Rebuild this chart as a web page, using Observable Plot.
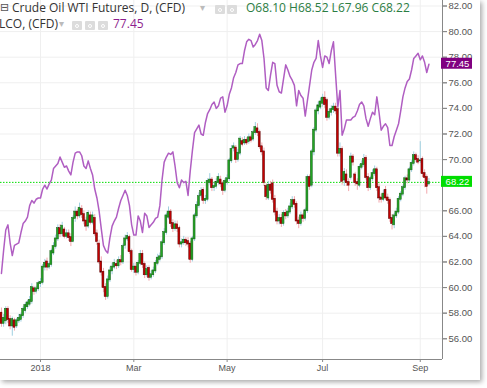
<!DOCTYPE html>
<html><head><meta charset="utf-8">
<script src="https://cdn.jsdelivr.net/npm/d3@7"></script>
<script src="https://cdn.jsdelivr.net/npm/@observablehq/plot@0.6"></script>
<style>
html,body{margin:0;padding:0;background:#fff;}
#card{position:absolute;left:0;top:0;width:480px;height:380px;background:#fff;box-shadow:2px 2px 5px rgba(0,0,0,0.35);overflow:hidden;}
#chart{position:absolute;left:0;top:0;}
.lg{position:absolute;font-family:"Open Sans","Noto Sans",sans-serif;font-size:12px;color:#333;white-space:nowrap;line-height:14px;}
.btn{position:absolute;width:10px;height:9px;background:#dcdcdc;border-radius:1px;}
.btn::after{content:"";position:absolute;left:3px;top:2.5px;width:4px;height:4px;border:1px solid #fff;border-radius:50%;box-sizing:border-box;}
</style></head><body>
<div id="card">
  <div id="chart"></div>
  <div class="lg" style="left:0px;top:1px;color:#555;font-family:'DejaVu Sans';font-size:11px;">⊟</div>
  <div class="lg" style="left:12px;top:1px;">Crude Oil WTI Futures, D, (CFD)</div>
  <div class="lg" style="left:200px;top:0px;color:#bbb;font-size:10px;">▾</div>
  <div class="btn" style="left:215px;top:5px;"></div>
  <div class="btn" style="left:227px;top:5px;"></div>
  <div class="lg" id="ohlc" style="left:246px;top:1px;color:#2b7d43;"></div>
  <div class="lg" style="left:-1px;top:17px;">LCO, (CFD)</div>
  <div class="lg" style="left:59px;top:16px;color:#bbb;font-size:10px;">▾</div>
  <div class="btn" style="left:72px;top:21px;"></div>
  <div class="btn" style="left:85px;top:21px;"></div>
  <div class="btn" style="left:98px;top:21px;"></div>
  <div class="lg" id="lcoval" style="left:113px;top:17px;color:#8e1f8e;"></div>
</div>
<script>
// ---- data ----
const opens = [58.0,57.2,57.4,58.3,57.5,57.0,57.4,57.0,57.4,57.5,
57.8,58.2,58.5,58.7,58.9,59.9,59.7,59.9,60.3,60.4,
61.6,62.0,61.6,61.8,62.7,63.2,63.8,64.6,64.2,64.5,
64.0,64.2,63.9,63.6,65.4,65.9,65.6,66.1,65.7,65.2,
64.8,65.6,65.1,65.4,64.2,63.4,62.0,61.2,60.0,59.3,
60.6,61.3,61.6,61.8,61.7,62.1,62.0,63.3,63.8,63.9,
62.8,61.4,61.6,61.2,61.9,62.6,61.8,61.0,61.5,60.8,
61.0,61.3,61.9,62.2,62.4,63.5,64.3,65.5,65.9,65.0,
64.6,64.9,64.6,63.4,63.5,63.7,63.6,63.4,62.2,63.8,
65.6,66.4,67.2,67.6,66.8,66.9,68.2,68.4,67.8,67.9,
68.2,68.4,68.1,67.6,68.2,68.5,69.9,70.9,70.9,70.0,
70.5,71.4,71.3,71.5,71.4,71.7,71.6,72.1,72.4,72.1,
71.0,70.6,67.9,67.0,68.0,68.1,66.9,65.9,65.2,65.4,
65.0,65.8,65.6,65.9,66.3,66.8,66.5,65.2,65.0,65.6,
65.4,66.0,68.6,68.0,70.6,72.3,73.8,74.1,74.4,74.8,
74.6,73.3,73.7,73.9,74.1,73.9,70.5,70.8,68.4,68.8,
68.2,68.6,70.2,68.8,68.2,68.0,69.4,69.6,70.1,68.6,
67.8,68.5,68.9,69.2,67.8,67.0,66.9,67.6,67.0,66.8,
65.4,64.9,65.6,65.9,66.9,67.3,67.8,68.5,68.4,69.2,
69.7,70.3,70.0,69.9,70.0,68.9,68.6,68.10];
const highs = [58.4,57.9,58.5,58.5,57.8,57.7,57.6,57.6,57.9,58.0,
58.5,58.8,59.0,59.3,60.3,60.1,60.1,60.5,60.7,61.8,
62.2,62.3,62.0,63.0,63.5,64.1,64.9,64.9,65.1,64.7,
64.5,64.5,64.2,65.6,66.3,66.1,66.6,66.4,66.0,65.5,
66.0,65.9,65.9,65.7,64.5,63.7,62.4,61.5,60.3,60.9,
61.6,61.9,62.2,62.1,62.4,62.5,63.4,64.1,64.3,64.1,
63.0,61.9,61.9,62.1,62.9,62.9,62.0,61.7,61.7,61.3,
61.6,62.1,62.6,62.7,63.7,64.6,65.8,66.3,66.1,65.3,
65.2,65.2,64.8,63.8,64.0,63.9,63.9,63.6,64.0,65.8,
66.7,67.4,67.8,67.8,67.2,68.5,68.9,68.6,68.2,68.5,
68.9,68.7,68.3,68.5,68.8,70.1,71.1,71.3,71.1,70.8,
71.8,71.7,71.8,71.7,72.0,71.9,72.3,72.9,72.8,72.3,
71.3,70.9,68.1,68.3,68.3,68.4,67.2,66.2,65.7,65.7,
66.0,66.1,66.2,66.6,67.1,67.1,66.7,65.5,65.9,65.8,
66.2,68.8,68.8,70.8,72.5,74.0,74.5,74.8,75.1,75.3,
74.8,73.9,74.2,74.4,74.4,74.1,71.3,71.0,69.3,69.2,
68.5,70.5,70.4,69.0,68.5,69.6,69.9,70.4,70.3,68.9,
68.7,69.2,69.5,69.4,68.1,67.3,67.6,67.9,67.3,67.0,
65.7,65.8,66.2,67.1,67.5,68.0,68.7,68.8,69.4,69.9,
70.6,70.5,70.3,71.4,70.2,69.2,68.8,68.52];
const lows = [56.9,56.9,57.1,57.2,56.7,56.2,56.6,56.8,57.2,57.3,
57.6,58.0,58.3,58.5,58.7,59.4,59.5,59.7,60.0,60.2,
61.3,61.3,61.4,61.6,62.5,63.0,63.6,63.9,64.0,63.8,
63.8,63.6,63.2,63.5,65.1,65.3,65.4,65.4,64.9,64.4,
64.6,64.9,64.9,64.0,63.3,61.8,60.9,59.6,59.0,59.1,
60.4,61.0,61.4,61.4,61.5,61.7,61.8,63.0,63.6,62.6,
61.2,61.1,60.9,61.0,61.7,61.5,60.7,60.8,60.5,60.6,
60.8,61.1,61.7,62.0,62.2,63.3,64.1,65.3,64.7,64.3,
64.4,64.3,63.1,63.1,63.3,63.2,63.1,61.9,62.0,63.6,
65.4,66.2,67.0,66.5,66.5,66.7,68.0,67.5,67.5,67.7,
68.0,67.8,67.2,67.4,68.0,68.3,69.7,70.6,69.7,69.8,
70.3,71.0,71.1,71.1,71.2,71.3,71.4,71.9,71.8,70.8,
70.3,67.9,66.8,66.8,67.3,66.6,65.6,64.9,64.9,64.7,
64.8,65.3,65.4,65.7,66.1,66.2,64.9,64.6,64.8,65.1,
65.2,65.8,67.6,67.8,70.3,72.1,73.5,73.9,74.1,74.0,
73.0,73.1,73.4,73.6,73.5,70.2,70.2,68.0,67.9,67.9,
67.5,68.4,69.5,67.9,67.6,67.8,69.2,69.4,68.4,67.5,
67.6,68.3,68.7,67.5,66.6,66.6,66.7,66.8,66.5,65.1,
64.5,64.6,65.4,65.7,66.7,67.1,67.6,68.1,68.2,69.0,
69.5,69.8,69.6,69.7,68.6,67.8,67.3,67.96];
const closes = [57.2,57.6,58.3,57.5,57.0,57.5,56.9,57.4,57.6,57.8,
58.3,58.6,58.8,59.0,60.0,59.7,59.9,60.3,60.4,61.6,
61.9,61.6,61.8,62.8,63.2,63.8,64.6,64.2,64.8,64.0,
64.2,63.9,63.6,65.4,65.9,65.6,66.2,65.7,65.2,64.8,
65.8,65.1,65.6,64.2,63.6,62.0,61.2,60.0,59.3,60.6,
61.3,61.6,61.9,61.7,62.1,62.0,63.2,63.8,64.0,62.8,
61.4,61.6,61.2,61.9,62.6,61.8,61.0,61.4,60.8,61.0,
61.3,61.9,62.3,62.4,63.5,64.3,65.6,65.9,65.0,64.6,
64.9,64.6,63.4,63.5,63.7,63.5,63.4,62.2,63.8,65.6,
66.4,67.1,67.5,66.8,66.9,68.3,68.4,67.8,67.9,68.2,
68.6,68.1,67.6,68.3,68.5,69.9,70.8,71.0,70.0,70.5,
71.6,71.2,71.5,71.3,71.7,71.5,72.1,72.5,72.1,71.0,
70.6,68.2,67.1,68.0,67.6,66.9,65.9,65.2,65.4,65.0,
65.8,65.6,65.9,66.3,66.8,66.5,65.2,65.0,65.6,65.4,
66.0,68.6,67.9,70.6,72.3,73.8,74.2,74.5,74.8,74.3,
73.3,73.7,73.9,74.1,73.8,70.5,70.8,68.3,69.0,68.2,
68.0,70.2,69.8,68.2,68.1,69.4,69.6,70.0,68.6,67.8,
68.5,68.9,69.2,67.8,67.0,66.9,67.3,67.0,66.8,65.4,
65.0,65.6,65.9,66.9,67.3,67.8,68.5,68.4,69.2,69.7,
70.3,70.0,69.8,69.9,68.9,68.6,67.9,68.22];
const brent = [61.1,62.9,64.5,64.9,63.5,62.5,63.3,63.4,63.5,64.3,
65.0,65.2,65.5,66.4,66.8,66.6,66.9,67.0,67.0,67.7,
68.0,67.7,68.1,68.4,69.3,69.5,69.7,70.2,69.8,69.4,
69.5,69.1,68.8,69.8,70.5,70.6,70.6,70.3,69.5,69.3,
69.9,69.3,68.8,67.7,67.0,66.0,64.6,63.3,62.9,62.7,
63.9,64.8,65.2,65.5,66.2,66.8,67.2,67.6,67.2,66.4,
64.9,64.1,64.1,65.6,65.2,64.3,65.8,65.6,64.7,64.9,
65.1,65.4,65.5,66.4,68.4,69.8,70.2,70.5,70.4,70.6,
69.5,68.2,67.8,68.4,68.2,68.3,67.2,69.1,70.7,72.1,
72.4,72.7,72.0,71.9,72.9,73.6,73.9,74.3,74.5,74.0,
74.2,74.8,74.9,73.7,74.2,75.1,75.6,76.4,76.8,77.4,
77.5,77.5,78.5,79.2,79.4,79.3,78.8,79.0,79.3,79.8,
79.3,77.9,75.6,75.4,76.6,77.6,77.5,75.8,75.3,75.2,
76.3,77.4,77.0,76.5,76.2,75.8,74.2,75.4,75.0,74.8,
73.4,74.6,75.8,77.0,77.6,77.9,79.3,78.1,77.2,78.1,
78.0,77.5,78.5,79.2,76.6,74.1,75.4,71.9,72.4,73.1,
73.1,73.1,73.3,73.4,73.8,74.3,74.5,74.2,73.2,72.6,
73.2,73.7,73.5,74.9,73.7,72.3,72.6,72.8,72.5,71.1,
71.1,71.8,72.3,72.8,73.8,74.9,75.6,76.1,76.3,77.0,
77.9,78.1,78.3,77.8,78.1,77.6,76.8,77.45];
const yTicks = [56,58,60,62,64,66,68,70,72,74,76,78,80,82];
const monthLabels = ["2018","Mar","May","Jul","Sep"];
const monthNums = [0,2,4,6,8];

// trading days (weekdays) starting 6 Dec 2017
const dates = [];
for (let d = new Date(2017, 11, 6); dates.length < closes.length; d.setDate(d.getDate() + 1)) {
  const wd = d.getDay();
  if (wd !== 0 && wd !== 6) dates.push(new Date(d));
}
const bars = closes.map((c, i) => ({i, date: dates[i], open: opens[i], high: highs[i], low: lows[i], close: c, brent: brent[i], up: c >= opens[i]}));
const tickIdx = monthNums.map(m => bars.find(b => b.date.getFullYear() === 2018 && b.date.getMonth() === m).i);
const labelOf = new Map(tickIdx.map((t, k) => [t, monthLabels[k]]));

const last = bars[bars.length - 1];
document.getElementById("ohlc").textContent = `O${last.open.toFixed(2)} H${last.high.toFixed(2)} L${last.low.toFixed(2)} C${last.close.toFixed(2)}`;
document.getElementById("lcoval").textContent = last.brent.toFixed(2);

const xDom = [-0.43, 203.25];
const yDom = [54.38, 82.43];
const tags = [{v: last.brent, c: "#800080"}, {v: last.close, c: "#00dd00"}];
// tick labels hidden behind the price tags in the reference
const labelTicks = yTicks.filter(t => !tags.some(g => Math.abs(g.v - t) < 0.5));

const chart = Plot.plot({
  width: 480, height: 380,
  marginLeft: 0, marginRight: 38, marginTop: 0, marginBottom: 21,
  x: {domain: xDom, axis: null, label: null},
  y: {domain: yDom, axis: null, label: null},
  style: {fontFamily: "'Liberation Sans', Arial, sans-serif", fontSize: "9.5px", color: "#555", background: "transparent", overflow: "visible"},
  marks: [
    Plot.gridY(yTicks, {stroke: "#efefef", strokeOpacity: 1}),
    Plot.gridX(tickIdx, {stroke: "#efefef", strokeOpacity: 1}),
    Plot.ruleY([last.close], {stroke: "#00dd00", strokeWidth: 1, strokeDasharray: "1.5,1.5"}),
    Plot.line(bars, {x: "i", y: "brent", stroke: "#b05ec2", strokeWidth: 1.5, curve: "linear"}),
    Plot.ruleX(bars, {x: "i", y1: "low", y2: "high", stroke: d => d.up ? "#9fcfe0" : "#f3a7ad", strokeWidth: 1}),
    Plot.rect(bars, {x1: d => d.i - 0.45, x2: d => d.i + 0.45, y1: "open", y2: "close",
      fill: d => d.up ? "#23a523" : "#c40000", stroke: d => d.up ? "#175c17" : "#560000", strokeWidth: 0.5,
      insetTop: -0.5, insetBottom: -0.5}),
    Plot.ruleX([xDom[1]], {stroke: "#888", strokeWidth: 1}),
    Plot.ruleY([yDom[0]], {stroke: "#888", strokeWidth: 1}),
    Plot.axisY(yTicks, {anchor: "right", tickSize: 4, text: null, label: null, stroke: "#888"}),
    Plot.axisY(labelTicks, {anchor: "right", tickSize: 4, tickPadding: 2, tickFormat: d => d.toFixed(2), label: null, stroke: "#888", fill: "#555", fontSize: 9.5}),
    Plot.axisX(tickIdx, {anchor: "bottom", tickSize: 3, tickPadding: 2, tickFormat: d => labelOf.get(d), label: null, stroke: "#888", fill: "#555", fontSize: 9}),
    Plot.rect(tags, {x1: xDom[1], x2: xDom[1], y1: "v", y2: "v", fill: "c", insetLeft: -1, insetRight: -30, insetTop: -6, insetBottom: -5}),
    Plot.text(tags, {x: xDom[1], y: "v", dx: 15, text: d => d.v.toFixed(2), fill: "white", fontSize: 9.5, textAnchor: "middle"})
  ]
});
document.getElementById("chart").appendChild(chart);
</script>
</body></html>
